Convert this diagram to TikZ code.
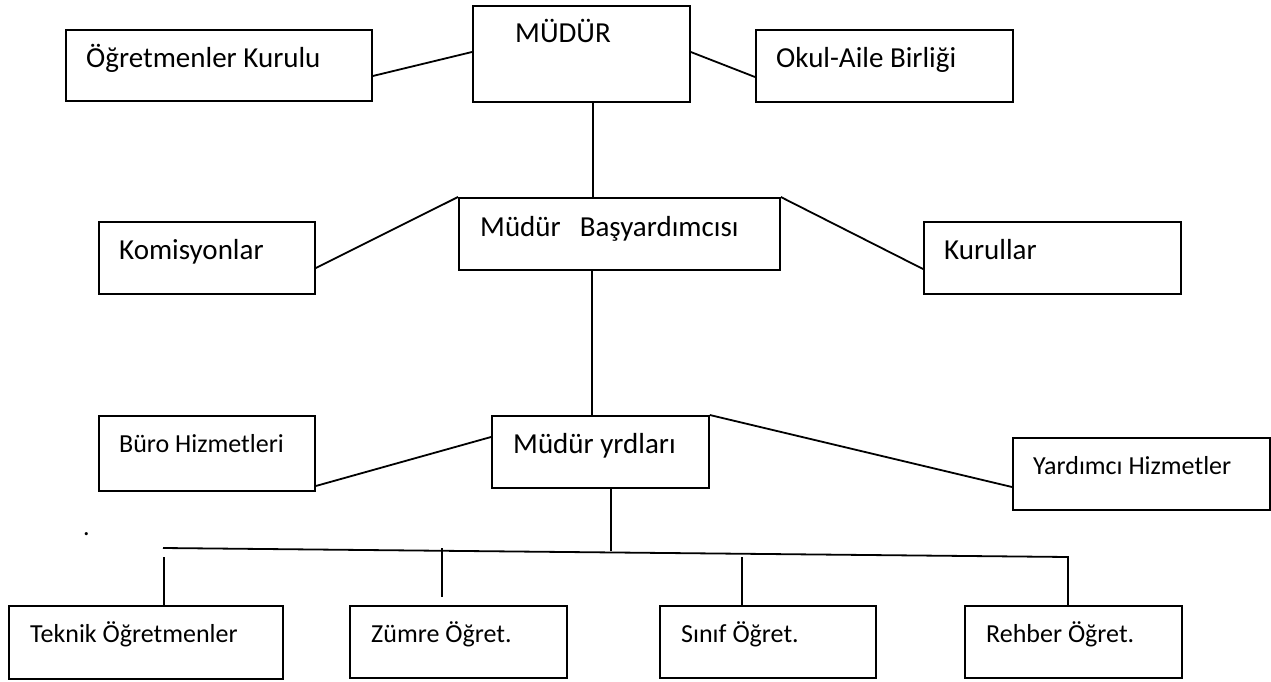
\documentclass[tikz,border=0pt]{standalone}
\usepackage{fontspec}
\setmainfont{Carlito}
\usetikzlibrary{calc}
\begin{document}
\begin{tikzpicture}[x=1pt,y=-1pt,
  box/.style={draw=black, line width=1.8pt, rectangle, inner sep=0pt, anchor=north west},
  big/.style={anchor=base west, inner sep=0pt, font=\fontsize{29}{34}\selectfont},
  small/.style={anchor=base west, inner sep=0pt, font=\fontsize{26}{31}\selectfont},
  conn/.style={draw=black, line width=1.8pt}]
\useasboundingbox (0,0) rectangle (1271,682);
% boxes
\node[box, minimum width=217pt, minimum height=96pt] (mudur) at (472,5) {};
\node[box, minimum width=306pt, minimum height=71pt] (ogr) at (65,29) {};
\node[box, minimum width=257pt, minimum height=72pt] (okul) at (755,29) {};
\node[box, minimum width=321pt, minimum height=72pt] (bas) at (458,197) {};
\node[box, minimum width=216pt, minimum height=72pt] (kom) at (98,221) {};
\node[box, minimum width=257pt, minimum height=72pt] (kur) at (923,221) {};
\node[box, minimum width=217pt, minimum height=72pt] (yrd) at (491,415) {};
\node[box, minimum width=216pt, minimum height=75pt] (buro) at (98,415) {};
\node[box, minimum width=257pt, minimum height=72pt] (yard) at (1012,437) {};
\node[box, minimum width=274pt, minimum height=73pt] (tek) at (8,605) {};
\node[box, minimum width=217pt, minimum height=72pt] (zum) at (349,605) {};
\node[box, minimum width=216pt, minimum height=72pt] (sin) at (659,605) {};
\node[box, minimum width=217pt, minimum height=72pt] (reh) at (964,605) {};
% texts
\node[big] (tmudur) at (515,43) {MÜDÜR};
\node[big] (togr) at (86,68) {Öğretmenler Kurulu};
\node[big] (tokul) at (776,68) {Okul-Aile Birliği};
\node[big] (tbas) at (480,236) {Müdür\hspace{19pt}Başyardımcısı};
\node[big] (tkom) at (119,259) {Komisyonlar};
\node[big] (tkur) at (944,259) {Kurullar};
\node[big] (tyrd) at (513,453) {Müdür yrdları};
\node[small] (tburo) at (119,452) {Büro Hizmetleri};
\node[small] (tyard) at (1033,474) {Yardımcı Hizmetler};
\node[small] (ttek) at (30,642) {Teknik Öğretmenler};
\node[small] (tzum) at (371,642) {Zümre Öğret.};
\node[small] (tsin) at (681,642) {Sınıf Öğret.};
\node[small] (treh) at (986,642) {Rehber Öğret.};
\node[small] (dot) at (83,535) {.};
% connectors
\draw[conn] ($(ogr.north east)+(0,47)$) -- ($(mudur.north west)+(0,47)$);
\draw[conn] ($(mudur.north east)+(0,47)$) -- ($(okul.north west)+(0,48)$);
\draw[conn] ($(mudur.south west)+(121,0)$) -- ($(bas.north west)+(135,0)$);
\draw[conn] ($(kom.north east)+(0,47)$) -- (bas.north west);
\draw[conn] (bas.north east) -- ($(kur.north west)+(0,48)$);
\draw[conn] ($(bas.south west)+(134,0)$) -- ($(yrd.north west)+(101,0)$);
\draw[conn] ($(buro.north east)+(0,71)$) -- ($(yrd.north west)+(0,22)$);
\draw[conn] (yrd.north east) -- ($(yard.north west)+(0,50)$);
\coordinate (hl) at (163,548);
\coordinate (hr) at (1068,557);
\draw[conn] ($(yrd.south west)+(120,0)$) -- ($(yrd.south west)+(120,62)$);
\draw[conn] (hl) -- (hr) -- ($(reh.north west)+(104,0)$);
\draw[conn] ($(tek.north west)+(156,-48)$) -- ($(tek.north west)+(156,0)$);
\draw[conn] ($(zum.north west)+(93,-57)$) -- ($(zum.north west)+(93,-8)$);
\draw[conn] ($(sin.north west)+(83,-48)$) -- ($(sin.north west)+(83,0)$);
\end{tikzpicture}
\end{document}
